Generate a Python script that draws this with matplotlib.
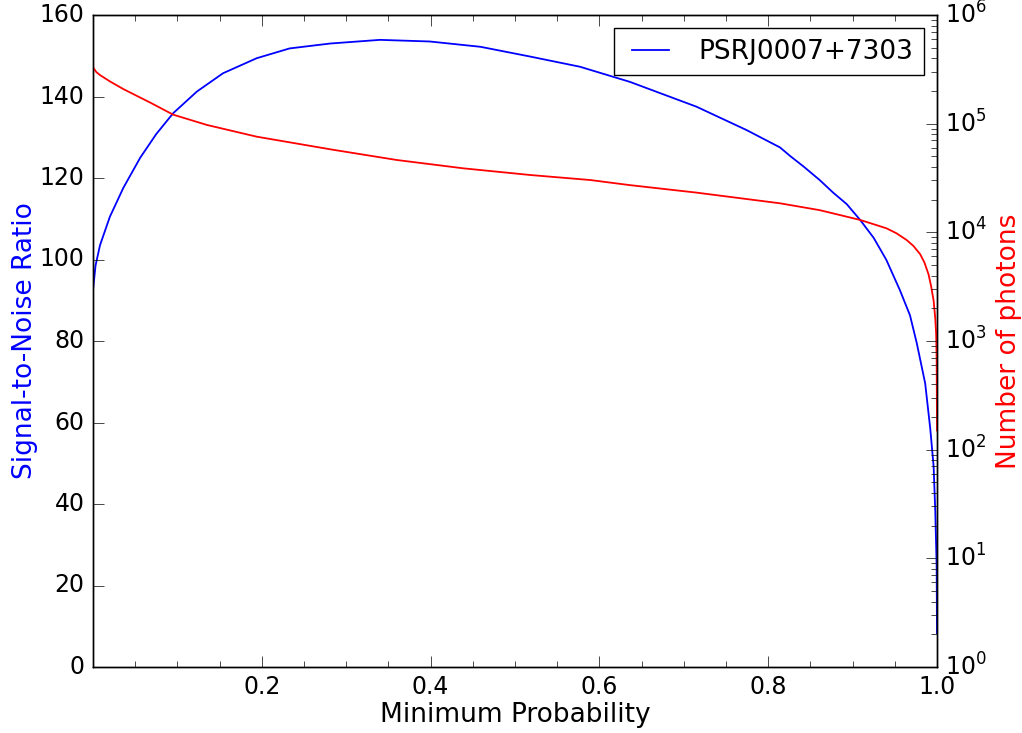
import matplotlib
matplotlib.use("Agg")
import matplotlib.pyplot as plt
import numpy as np

plt.style.use('classic')

# SNR curve (blue, left axis)
snr_x = [0.0, 0.003, 0.0083, 0.020, 0.036, 0.056, 0.075, 0.095, 0.123, 0.154, 0.194, 0.233,
         0.281, 0.340, 0.399, 0.459, 0.518, 0.577, 0.636, 0.715, 0.774, 0.814, 0.826, 0.842,
         0.861, 0.877, 0.893, 0.909, 0.925, 0.940, 0.956, 0.968, 0.976, 0.986, 0.992, 0.996,
         0.998, 0.9996, 1.0]
snr_y = [92.5, 98.5, 103.5, 110.5, 117.6, 125.0, 130.8, 135.9, 141.2, 145.7, 149.4, 151.8,
         153.0, 153.9, 153.5, 152.2, 149.8, 147.3, 143.6, 137.5, 131.8, 127.5, 125.4, 122.8,
         119.5, 116.4, 113.6, 109.7, 105.3, 99.9, 92.5, 86.3, 79.5, 69.6, 58.5, 49.2, 38.0,
         24.6, 8.3]

# Number of photons (red, right log axis)
ph_x = [0.0, 0.004, 0.0083, 0.02, 0.036, 0.068, 0.095, 0.135, 0.194, 0.281, 0.360, 0.439,
        0.518, 0.589, 0.636, 0.715, 0.814, 0.861, 0.909, 0.940, 0.952, 0.964, 0.972, 0.980,
        0.985, 0.990, 0.993, 0.996, 0.998, 0.999, 0.9996, 1.0]
ph_y = [3.3e5, 2.98e5, 2.80e5, 2.45e5, 2.08e5, 1.56e5, 1.21e5, 9.73e4, 7.59e4, 5.81e4,
        4.63e4, 3.88e4, 3.37e4, 3.03e4, 2.72e4, 2.32e4, 1.85e4, 1.60e4, 1.30e4, 1.09e4,
        9.8e3, 8.5e3, 7.5e3, 6.3e3, 5.3e3, 4.1e3, 3.2e3, 2.35e3, 1.6e3, 1.15e3, 6.7e2, 1.5e2]

xticks = [0.2, 0.4, 0.6, 0.8, 1.0]
xticklabels = ['0.2', '0.4', '0.6', '0.8', '1.0']

fig = plt.figure(figsize=(10.22, 7.33), dpi=100, facecolor='white')
ax = fig.add_axes([93/1022, 1-667/733, (937-93)/1022, (667-15)/733])
ax.plot(snr_x, snr_y, color='blue', lw=1.3, label='PSRJ0007+7303')
ax.set_xlim(0, 1)
ax.set_ylim(0, 160)
ax.set_xticks(xticks)
ax.set_xticklabels(xticklabels)
ax.set_xticks(np.arange(0, 1.0001, 0.05), minor=True)
ax.tick_params(axis='x', which='minor', length=4, top=True)
ax.tick_params(axis='both', which='major', length=8, labelsize=17, pad=6)
ax.set_xlabel('Minimum Probability', fontsize=19, labelpad=2)
ax.set_ylabel('Signal-to-Noise Ratio', color='blue', fontsize=19, labelpad=1)
ax.tick_params(axis='y', right=False)

ax2 = ax.twinx()
ax2.plot(ph_x, ph_y, color='red', lw=1.3)
ax2.set_yscale('log')
ax2.set_ylim(1, 1e6)
ax2.set_xlim(0, 1)
ax2.tick_params(axis='y', which='major', length=8, labelsize=17, pad=6)
ax2.tick_params(axis='y', which='minor', length=4)
ax2.set_ylabel('Number of photons', color='red', fontsize=19, labelpad=6)

leg = ax.legend(loc='upper right', fontsize=19, handlelength=2.0, borderpad=0.4,
                borderaxespad=0.5)
leg.get_frame().set_linewidth(1.0)

fig.savefig('out.png', dpi=100, facecolor='white')
